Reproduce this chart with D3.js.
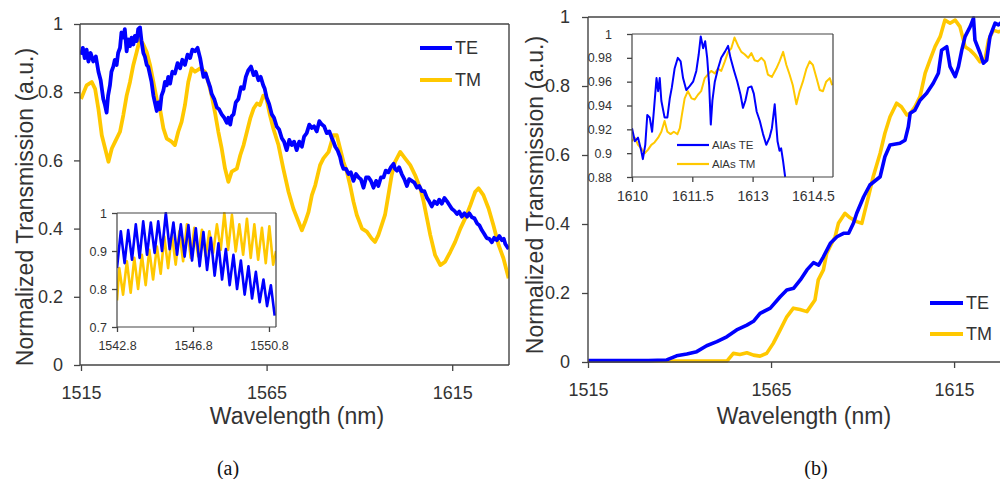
<!DOCTYPE html>
<html>
<head>
<meta charset="utf-8">
<script src="https://cdn.jsdelivr.net/npm/d3@7/dist/d3.min.js"></script>
<style>
  html, body { margin: 0; padding: 0; background: #fff; }
  svg { display: block; }
  text { font-family: "Liberation Sans", Arial, sans-serif; fill: #333; }
  .cap { font-family: "Liberation Serif", "Times New Roman", serif; fill: #111; }
</style>
</head>
<body>
<svg id="fig" width="1000" height="479"></svg>
<script>
// ---- Panel (a): full-range transmission, [wavelength nm, normalized T] ----
const teA = [
  [1515.0,0.91],[1515.5,0.93],[1516.0,0.90],[1516.5,0.925],[1517.0,0.89],[1517.6,0.915],[1518.3,0.89],
  [1519.0,0.905],[1519.7,0.86],[1520.3,0.835],[1521.0,0.78],[1521.4,0.765],[1521.9,0.74],[1522.3,0.79],
  [1522.8,0.82],[1523.2,0.86],[1523.7,0.875],[1524.1,0.895],[1524.6,0.88],[1525.0,0.915],[1525.5,0.93],
  [1525.9,0.975],[1526.4,0.96],[1526.8,0.985],[1527.3,0.92],[1527.7,0.955],[1528.2,0.935],[1528.6,0.96],
  [1529.1,0.94],[1529.5,0.965],[1530.0,0.95],[1530.4,0.985],[1530.9,0.99],[1531.3,0.95],[1531.8,0.915],
  [1532.2,0.905],[1532.7,0.88],[1533.1,0.875],[1533.6,0.85],[1534.0,0.83],[1534.5,0.79],[1535.0,0.765],
  [1535.4,0.745],[1535.8,0.77],[1536.3,0.75],[1536.7,0.79],[1537.2,0.805],[1537.6,0.83],[1538.1,0.82],
  [1538.5,0.845],[1539.0,0.825],[1539.6,0.86],[1540.3,0.855],[1541.0,0.885],[1541.7,0.87],[1542.3,0.895],
  [1543.0,0.88],[1543.7,0.91],[1544.4,0.90],[1545.0,0.925],[1545.7,0.92],[1546.4,0.93],[1547.1,0.90],
  [1547.5,0.875],[1548.0,0.845],[1548.6,0.855],[1549.3,0.83],[1549.8,0.815],[1550.2,0.795],[1550.9,0.78],
  [1551.6,0.755],[1552.2,0.75],[1552.9,0.735],[1553.6,0.725],[1554.3,0.71],[1554.7,0.725],[1555.2,0.705],
  [1555.6,0.73],[1556.1,0.735],[1556.7,0.77],[1557.4,0.78],[1558.1,0.815],[1558.8,0.81],[1559.4,0.845],
  [1560.1,0.865],[1560.8,0.875],[1561.5,0.85],[1562.1,0.86],[1562.8,0.835],[1563.4,0.845],[1564.1,0.82],
  [1564.5,0.81],[1565.0,0.785],[1565.7,0.765],[1566.4,0.735],[1567.0,0.725],[1567.7,0.70],[1568.4,0.69],
  [1569.1,0.665],[1569.7,0.655],[1570.4,0.63],[1571.1,0.66],[1571.8,0.645],[1572.4,0.655],[1573.1,0.63],
  [1573.8,0.655],[1574.5,0.64],[1575.1,0.67],[1575.8,0.68],[1576.5,0.705],[1577.2,0.695],[1577.8,0.70],
  [1578.5,0.685],[1579.2,0.715],[1579.9,0.705],[1580.5,0.70],[1581.2,0.68],[1581.9,0.685],[1582.6,0.665],
  [1583.0,0.655],[1583.5,0.64],[1584.1,0.63],[1584.8,0.61],[1585.2,0.59],[1585.7,0.575],[1586.4,0.575],
  [1587.1,0.56],[1587.7,0.565],[1588.4,0.54],[1589.1,0.56],[1589.8,0.55],[1590.4,0.545],[1591.1,0.52],
  [1591.8,0.55],[1592.5,0.55],[1593.1,0.54],[1593.8,0.52],[1594.5,0.54],[1595.1,0.525],[1595.8,0.55],
  [1596.5,0.55],[1597.1,0.57],[1597.8,0.565],[1598.5,0.58],[1599.2,0.59],[1599.6,0.575],[1600.1,0.57],
  [1600.7,0.58],[1601.4,0.56],[1602.1,0.545],[1602.8,0.525],[1603.4,0.545],[1604.1,0.54],[1604.8,0.535],
  [1605.5,0.52],[1606.1,0.525],[1606.8,0.51],[1607.5,0.51],[1608.2,0.49],[1608.8,0.48],[1609.5,0.465],
  [1610.2,0.48],[1610.9,0.472],[1611.5,0.485],[1612.2,0.473],[1612.9,0.49],[1613.6,0.48],[1614.2,0.47],
  [1614.9,0.458],[1615.6,0.452],[1616.3,0.443],[1616.9,0.45],[1617.6,0.435],[1618.3,0.445],[1619.0,0.435],
  [1619.6,0.445],[1620.3,0.433],[1621.0,0.43],[1621.7,0.415],[1622.3,0.41],[1623.0,0.395],[1623.6,0.385],
  [1624.3,0.372],[1625.0,0.37],[1625.7,0.36],[1626.3,0.373],[1627.0,0.366],[1627.7,0.378],[1628.4,0.366],
  [1628.9,0.37],[1629.3,0.355],[1630.2,0.34]
];
const tmA = [
  [1515.0,0.78],[1516.5,0.82],[1517.9,0.83],[1518.8,0.81],[1519.7,0.75],[1520.6,0.674],[1521.5,0.635],
  [1522.4,0.596],[1523.3,0.635],[1524.2,0.655],[1525.5,0.684],[1526.4,0.733],[1527.3,0.79],[1528.2,0.83],
  [1529.1,0.88],[1530.0,0.918],[1530.9,0.957],[1531.8,0.94],[1532.7,0.918],[1533.6,0.88],[1534.5,0.83],
  [1535.4,0.78],[1536.3,0.75],[1537.2,0.694],[1538.1,0.664],[1539.4,0.655],[1540.3,0.645],[1541.2,0.684],
  [1542.1,0.713],[1543.0,0.762],[1543.9,0.83],[1544.8,0.87],[1545.7,0.86],[1547.1,0.87],[1548.4,0.86],
  [1549.3,0.83],[1550.2,0.79],[1551.1,0.74],[1552.0,0.684],[1552.9,0.635],[1553.8,0.576],[1554.7,0.537],
  [1555.6,0.567],[1557.0,0.576],[1557.9,0.615],[1558.8,0.645],[1559.7,0.684],[1560.6,0.723],[1561.5,0.752],
  [1562.4,0.767],[1563.2,0.762],[1564.1,0.79],[1565.0,0.78],[1565.9,0.733],[1566.8,0.694],[1568.2,0.645],
  [1569.5,0.576],[1570.9,0.508],[1572.2,0.459],[1573.6,0.42],[1574.5,0.395],[1575.4,0.42],[1576.3,0.449],
  [1577.2,0.498],[1578.1,0.527],[1579.4,0.586],[1580.3,0.606],[1581.7,0.625],[1583.0,0.674],[1583.9,0.674],
  [1584.8,0.635],[1585.7,0.596],[1586.6,0.567],[1587.5,0.527],[1588.4,0.479],[1589.3,0.44],[1590.7,0.40],
  [1592.0,0.391],[1593.3,0.371],[1594.2,0.361],[1595.1,0.381],[1596.0,0.41],[1596.9,0.44],[1597.8,0.498],
  [1598.7,0.557],[1599.6,0.596],[1601.0,0.625],[1602.3,0.606],[1603.7,0.586],[1605.0,0.557],[1606.4,0.518],
  [1607.3,0.479],[1608.2,0.43],[1609.1,0.381],[1610.4,0.322],[1611.8,0.293],[1613.1,0.303],[1614.5,0.332],
  [1615.8,0.361],[1617.2,0.40],[1618.5,0.43],[1619.9,0.469],[1621.2,0.508],[1622.1,0.518],[1623.4,0.498],
  [1624.8,0.459],[1626.1,0.41],[1627.5,0.352],[1628.8,0.313],[1630.2,0.254]
];
// Inset (a): fine scan 1542.8 - 1551.2 nm
const teInA = [
  [1542.80,0.855],[1543.00,0.952],[1543.20,0.868],[1543.39,0.955],[1543.59,0.877],[1543.79,0.97],
  [1543.99,0.882],[1544.18,0.978],[1544.38,0.89],[1544.58,0.975],[1544.78,0.895],[1544.97,0.978],
  [1545.17,0.90],[1545.37,1.0],[1545.57,0.905],[1545.77,0.975],[1545.96,0.89],[1546.16,0.97],
  [1546.36,0.885],[1546.56,0.968],[1546.75,0.875],[1546.95,0.96],[1547.15,0.86],[1547.35,0.95],
  [1547.54,0.85],[1547.74,0.935],[1547.94,0.835],[1548.14,0.92],[1548.33,0.825],[1548.53,0.905],
  [1548.73,0.81],[1548.93,0.89],[1549.12,0.80],[1549.32,0.875],[1549.52,0.785],[1549.72,0.86],
  [1549.91,0.775],[1550.11,0.845],[1550.31,0.765],[1550.51,0.825],[1550.70,0.755],[1550.90,0.81],
  [1551.10,0.73]
];
const tmInA = [
  [1542.80,0.77],[1542.92,0.855],[1543.12,0.785],[1543.32,0.873],[1543.52,0.79],[1543.71,0.882],
  [1543.91,0.80],[1544.11,0.89],[1544.31,0.81],[1544.50,0.903],[1544.70,0.825],[1544.90,0.912],
  [1545.10,0.84],[1545.29,0.938],[1545.49,0.855],[1545.69,0.943],[1545.89,0.864],[1546.08,0.952],
  [1546.28,0.873],[1546.48,0.97],[1546.68,0.882],[1546.87,0.961],[1547.07,0.886],[1547.27,0.956],
  [1547.47,0.886],[1547.66,0.952],[1547.86,0.895],[1548.06,0.97],[1548.26,0.903],[1548.45,1.0],
  [1548.65,0.903],[1548.85,0.995],[1549.05,0.899],[1549.24,0.97],[1549.44,0.89],[1549.64,0.985],
  [1549.84,0.882],[1550.03,0.97],[1550.23,0.877],[1550.43,0.961],[1550.63,0.868],[1550.82,0.965],
  [1551.02,0.864],[1551.17,0.90]
];

// ---- Panel (b): AlAs sample ----
const teB = [
  [1515.1,0.004],[1531.5,0.004],[1536.5,0.006],[1539.2,0.018],[1542.0,0.023],[1544.7,0.03],[1547.4,0.047],
  [1550.2,0.059],[1552.9,0.073],[1555.6,0.093],[1558.4,0.107],[1560.2,0.118],[1562.0,0.141],[1564.8,0.156],
  [1567.5,0.189],[1569.3,0.209],[1571.2,0.214],[1573.0,0.238],[1574.8,0.267],[1576.6,0.288],[1578.0,0.281],
  [1579.3,0.305],[1581.2,0.344],[1583.0,0.363],[1584.8,0.373],[1586.2,0.373],[1587.5,0.402],[1588.4,0.431],
  [1590.3,0.479],[1592.0,0.513],[1594.8,0.537],[1596.1,0.595],[1597.5,0.629],[1600.2,0.634],[1601.6,0.643],
  [1602.5,0.682],[1603.0,0.721],[1604.3,0.73],[1605.7,0.759],[1607.5,0.779],[1609.3,0.808],[1610.7,0.837],
  [1611.6,0.904],[1613.0,0.914],[1613.9,0.856],[1615.3,0.827],[1616.2,0.856],[1617.1,0.904],[1618.0,0.943],
  [1619.4,0.972],[1620.3,0.997],[1620.7,0.933],[1622.1,0.895],[1623.0,0.866],[1623.9,0.875],[1624.8,0.943],
  [1626.2,0.982],[1627.1,0.977],[1628.0,0.985]
];
const tmB = [
  [1515.1,0.003],[1553.0,0.003],[1554.7,0.025],[1556.5,0.022],[1558.4,0.027],[1560.2,0.02],[1562.0,0.017],
  [1563.8,0.025],[1565.6,0.054],[1567.5,0.093],[1569.3,0.131],[1571.1,0.156],[1572.9,0.152],[1574.8,0.146],
  [1577.0,0.18],[1577.9,0.238],[1579.3,0.267],[1580.2,0.315],[1581.1,0.334],[1582.5,0.363],[1583.4,0.402],
  [1585.2,0.431],[1586.6,0.418],[1588.4,0.407],[1589.8,0.402],[1590.7,0.441],[1591.6,0.479],[1592.9,0.537],
  [1594.8,0.605],[1596.1,0.663],[1597.5,0.711],[1599.3,0.75],[1600.6,0.74],[1602.1,0.716],[1603.0,0.72],
  [1604.3,0.74],[1605.7,0.769],[1607.1,0.837],[1608.4,0.875],[1609.8,0.914],[1611.2,0.943],[1612.5,0.991],
  [1613.9,0.982],[1615.3,0.991],[1616.6,0.972],[1618.0,0.914],[1619.4,0.904],[1620.7,0.89],[1622.1,0.87],
  [1623.5,0.88],[1624.4,0.933],[1625.7,0.962],[1627.1,0.957],[1628.0,0.96]
];
// Inset (b): fine scan 1610 - 1615 nm
const teInB = [
  [1610.00,0.921],[1610.07,0.910],[1610.15,0.913],[1610.23,0.902],[1610.27,0.895],[1610.33,0.907],
  [1610.38,0.932],[1610.44,0.930],[1610.50,0.918],[1610.55,0.938],[1610.61,0.963],[1610.65,0.952],
  [1610.69,0.963],[1610.73,0.944],[1610.81,0.930],[1610.88,0.930],[1610.94,0.946],[1610.99,0.955],
  [1611.06,0.971],[1611.14,0.980],[1611.21,0.977],[1611.27,0.963],[1611.35,0.953],[1611.43,0.956],
  [1611.52,0.960],[1611.60,0.969],[1611.66,0.983],[1611.71,0.998],[1611.77,0.988],[1611.82,0.994],
  [1611.87,0.980],[1611.92,0.957],[1611.96,0.924],[1612.00,0.944],[1612.06,0.960],[1612.14,0.971],
  [1612.22,0.980],[1612.31,0.985],[1612.39,0.990],[1612.45,0.980],[1612.54,0.969],[1612.62,0.960],
  [1612.70,0.949],[1612.76,0.938],[1612.82,0.944],[1612.89,0.955],[1612.97,0.956],[1613.03,0.950],
  [1613.10,0.935],[1613.18,0.927],[1613.26,0.916],[1613.34,0.907],[1613.42,0.913],[1613.48,0.921],
  [1613.55,0.941],[1613.62,0.910],[1613.67,0.902],[1613.71,0.904],[1613.76,0.893],[1613.81,0.880]
];
const tmInB = [
  [1610.00,0.910],[1610.07,0.913],[1610.15,0.907],[1610.23,0.904],[1610.32,0.900],[1610.40,0.903],
  [1610.48,0.907],[1610.56,0.909],[1610.65,0.913],[1610.73,0.918],[1610.81,0.927],[1610.88,0.918],
  [1610.96,0.916],[1611.04,0.918],[1611.13,0.916],[1611.19,0.921],[1611.24,0.932],[1611.31,0.946],
  [1611.39,0.952],[1611.48,0.946],[1611.56,0.945],[1611.64,0.949],[1611.72,0.952],[1611.81,0.963],
  [1611.89,0.966],[1611.97,0.969],[1612.06,0.967],[1612.14,0.971],[1612.22,0.969],[1612.31,0.977],
  [1612.39,0.985],[1612.47,0.988],[1612.55,0.997],[1612.64,0.990],[1612.72,0.985],[1612.80,0.983],
  [1612.89,0.980],[1612.97,0.984],[1613.05,0.978],[1613.13,0.977],[1613.22,0.980],[1613.30,0.977],
  [1613.38,0.966],[1613.48,0.964],[1613.59,0.971],[1613.67,0.977],[1613.76,0.985],[1613.84,0.974],
  [1613.92,0.966],[1614.00,0.957],[1614.09,0.941],[1614.17,0.952],[1614.25,0.960],[1614.34,0.971],
  [1614.42,0.977],[1614.50,0.974],[1614.59,0.963],[1614.67,0.953],[1614.75,0.952],[1614.83,0.960],
  [1614.92,0.963],[1614.98,0.957]
];

// ---- Tick values ----
const mainXTicks = [1515, 1565, 1615];
const mainYTicks = [0, 0.2, 0.4, 0.6, 0.8, 1];
const inAXTicks = [1542.8, 1546.8, 1550.8];
const inAYTicks = [0.7, 0.8, 0.9, 1];
const inBXTicks = [1610, 1611.5, 1613, 1614.5];
const inBYTicks = [0.88, 0.9, 0.92, 0.94, 0.96, 0.98, 1];

const BLUE = "#0000ff", GOLD = "#ffc800", AXIS = "#444";
const svg = d3.select("#fig");
const defs = svg.append("defs");
let clipId = 0;

function styleAxis(g, fontSize) {
  g.select(".domain").remove();
  g.selectAll(".tick line").attr("stroke", AXIS).attr("stroke-width", 1.3);
  g.selectAll(".tick text").style("font-size", fontSize + "px").attr("fill", "#333");
}

// Draws one framed plot: axes, ticks, and the given series
function plot(o) {
  const x = d3.scaleLinear().domain(o.xDomain).range(o.xRange);
  const y = d3.scaleLinear().domain(o.yDomain).range(o.yRange);
  const g = svg.append("g");
  const [x0, x1] = [o.frame[0], o.frame[1]];
  const [yT, yB] = [o.yRange[1], o.yRange[0]];
  if (o.fill) g.append("rect").attr("x", x0).attr("y", yT).attr("width", x1 - x0).attr("height", yB - yT).attr("fill", "#fff");

  const id = "clip" + (clipId++);
  defs.append("clipPath").attr("id", id).append("rect")
    .attr("x", x0).attr("y", yT - 1).attr("width", x1 - x0).attr("height", yB - yT + 2);

  const line = d3.line().x(d => x(d[0])).y(d => y(d[1]));
  const cg = g.append("g").attr("clip-path", `url(#${id})`);
  o.series.forEach(s => {
    cg.append("path").datum(s.data).attr("d", line)
      .attr("fill", "none").attr("stroke", s.color).attr("stroke-width", o.lw)
      .attr("stroke-linejoin", "round");
  });

  const gx = g.append("g").attr("transform", `translate(0,${yB})`)
    .call(d3.axisBottom(x).tickValues(o.xTicks).tickFormat(o.xFmt).tickSize(o.tick).tickSizeOuter(0).tickPadding(o.xPad));
  styleAxis(gx, o.xFont);
  const gy = g.append("g").attr("transform", `translate(${x0},0)`)
    .call(d3.axisLeft(y).tickValues(o.yTicks).tickFormat(o.yFmt).tickSize(o.tick).tickSizeOuter(0).tickPadding(o.yPad));
  styleAxis(gy, o.yFont);

  // frame
  const fr = g.append("g").attr("stroke", AXIS).attr("stroke-width", o.frameW).attr("fill", "none");
  fr.append("line").attr("x1", x0).attr("x2", x0).attr("y1", yT).attr("y2", yB);
  fr.append("line").attr("x1", x0).attr("x2", x1).attr("y1", yB).attr("y2", yB);
  fr.append("line").attr("x1", x0).attr("x2", x1).attr("y1", yT).attr("y2", yT);
  fr.append("line").attr("x1", x1).attr("x2", x1).attr("y1", yT).attr("y2", yB);
  return { x, y, g };
}

const fmtMain = d => d3.format("")(d);
const fmtTrim = d => (+d.toFixed(2)).toString();

// Panel (a)
plot({
  xDomain: [1515, 1630.3], xRange: [81, 509], yDomain: [0, 1], yRange: [365, 24], frame: [80, 509],
  series: [{ data: tmA, color: GOLD }, { data: teA, color: BLUE }], lw: 3.8,
  xTicks: mainXTicks, yTicks: mainYTicks, xFmt: fmtMain, yFmt: fmtTrim,
  tick: 6, xPad: 15, yPad: 11, xFont: 18, yFont: 18, frameW: 1.4
});
// Inset (a)
plot({
  xDomain: [1542.8, 1551.17], xRange: [117, 276], yDomain: [0.7, 1], yRange: [327, 213], frame: [117, 276],
  fill: true, series: [{ data: tmInA, color: GOLD }, { data: teInA, color: BLUE }], lw: 2.6,
  xTicks: inAXTicks, yTicks: inAYTicks, xFmt: d => d.toFixed(1), yFmt: fmtTrim,
  tick: 5, xPad: 9, yPad: 5, xFont: 12.5, yFont: 12.5, frameW: 1.2
});

// Panel (b)
plot({
  xDomain: [1515, 1630], xRange: [588, 1009], yDomain: [0, 1], yRange: [362, 17], frame: [588, 1009],
  series: [{ data: tmB, color: GOLD }, { data: teB, color: BLUE }], lw: 3.6,
  xTicks: mainXTicks, yTicks: mainYTicks, xFmt: fmtMain, yFmt: fmtTrim,
  tick: 6, xPad: 15, yPad: 12, xFont: 18, yFont: 18, frameW: 1.4
});
// Inset (b)
plot({
  xDomain: [1610, 1615], xRange: [632, 833], yDomain: [0.88, 1], yRange: [177, 34], frame: [632, 833],
  fill: true, series: [{ data: tmInB, color: GOLD }, { data: teInB, color: BLUE }], lw: 2.0,
  xTicks: inBXTicks, yTicks: inBYTicks, xFmt: d => String(d), yFmt: fmtTrim,
  tick: 5, xPad: 9, yPad: 15, xFont: 14, yFont: 12.5, frameW: 1.2
});

// Axis titles
function titles(cx, cy, yx, yy) {
  svg.append("text").attr("x", cx).attr("y", cy).attr("text-anchor", "middle")
    .style("font-size", "23px").attr("fill", "#111").text("Wavelength (nm)");
  svg.append("text").attr("transform", `translate(${yx},${yy}) rotate(-90)`).attr("text-anchor", "middle")
    .style("font-size", "23px").attr("fill", "#111").text("Normalized Transmission (a.u.)");
}
titles(297, 424, 33, 207);
titles(804, 424, 543, 195);

// Legends
function legend(x, y0, dy, items, len, lw, fs) {
  items.forEach((it, i) => {
    const yy = y0 + i * dy;
    svg.append("line").attr("x1", x).attr("x2", x + len).attr("y1", yy).attr("y2", yy)
      .attr("stroke", it.color).attr("stroke-width", lw);
    svg.append("text").attr("x", x + len + 3).attr("y", yy + fs * 0.36)
      .style("font-size", fs + "px").attr("fill", "#222").text(it.label);
  });
}
legend(420, 48, 32, [{ label: "TE", color: BLUE }, { label: "TM", color: GOLD }], 32, 4, 18);
legend(930, 303, 31, [{ label: "TE", color: BLUE }, { label: "TM", color: GOLD }], 33, 4, 18);
legend(677, 145, 19, [{ label: "AlAs TE", color: BLUE }, { label: "AlAs TM", color: GOLD }], 32, 2.2, 11.5);

// Panel captions
svg.append("text").attr("class", "cap").attr("x", 228).attr("y", 475).attr("text-anchor", "middle")
  .style("font-size", "20px").text("(a)");
svg.append("text").attr("class", "cap").attr("x", 816).attr("y", 475).attr("text-anchor", "middle")
  .style("font-size", "20px").text("(b)");
</script>
</body>
</html>
